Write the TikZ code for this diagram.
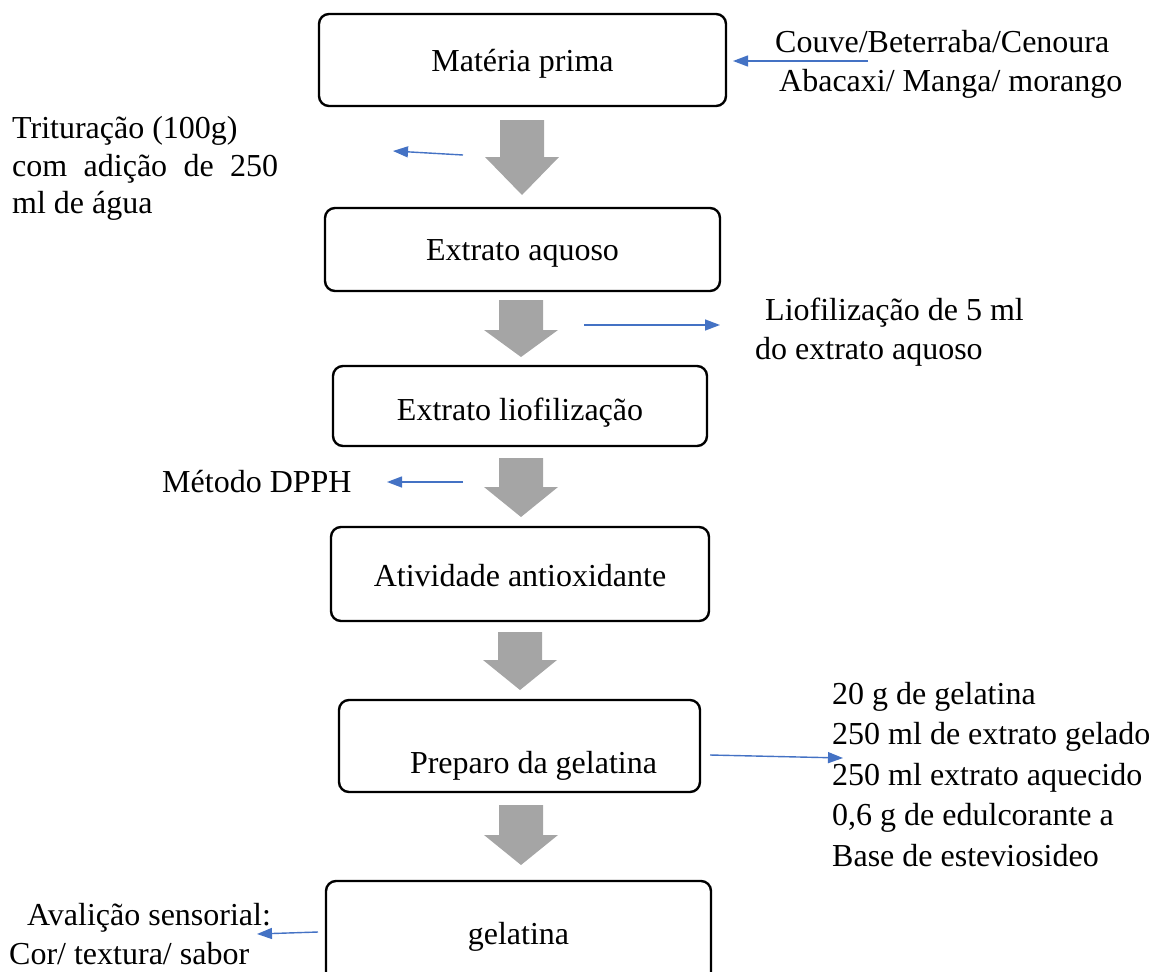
\documentclass[tikz,border=0pt]{standalone}
\usepackage{fontspec}
\setmainfont{Liberation Serif}
\usetikzlibrary{arrows.meta}
\definecolor{bluearr}{HTML}{4472C4}
\definecolor{grayarr}{HTML}{A5A5A5}
\newcommand\blockarr[4]{\fill[grayarr] (#1-22,#2) -- (#1+22,#2) -- (#1+22,#4) -- (#1+37,#4) -- (#1,#3) -- (#1-37,#4) -- (#1-22,#4) -- cycle;}
\newcommand\lowered[2]{\raisebox{-#1}[\height][\depth]{#2}}
\begin{document}
\begin{tikzpicture}[x=1pt,y=-1pt,
  box/.style={draw, line width=2.4pt, rounded corners=10pt, inner sep=0pt, align=center, font=\fontsize{32}{39}\selectfont},
  lbl/.style={inner sep=0pt, anchor=base west, font=\fontsize{32}{39}\selectfont},
  conn/.style={draw=bluearr, line width=1.4pt, -{Triangle[length=15pt,width=11pt]}}]
\useasboundingbox (0,0) rectangle (1155,971);
\clip (0,0) rectangle (1155,971);
% boxes
\node[box, minimum width=407pt, minimum height=92pt] (b1) at (522.5,60) {\lowered{4pt}{Matéria prima}};
\node[box, minimum width=395pt, minimum height=83pt] (b2) at (522.5,249.5) {\lowered{4pt}{Extrato aquoso}};
\node[box, minimum width=374pt, minimum height=80pt] (b3) at (520,406) {\lowered{7pt}{Extrato liofilização}};
\node[box, minimum width=378pt, minimum height=94pt] (b4) at (520,574) {\lowered{2pt}{Atividade antioxidante}};
\node[box, minimum width=361pt, minimum height=92pt] (b5) at (519.5,746) {\lowered{20pt}{\hspace*{28pt}Preparo da gelatina}};
\node[box, minimum width=385pt, minimum height=104pt] (b6) at (518.5,933) {\lowered{4pt}{gelatina}};
% block arrows
\blockarr{522}{120}{195}{157}
\blockarr{521}{300}{357}{330}
\blockarr{521}{458}{517}{487}
\blockarr{520}{632}{690}{660}
\blockarr{521}{805}{865}{835}
% side texts
\node[lbl] (t0) at (775,53) {\begin{tabular}[t]{@{}l@{}}Couve/Beterraba/Cenoura\\\hspace*{4pt}Abacaxi/ Manga/ morango\end{tabular}};
\node[lbl, font=\fontsize{32}{37}\selectfont] (t1) at (12,139) {\begin{tabular}[t]{@{}l@{}}Trituração (100g)\\\makebox[266pt][s]{com\hfill adição\hfill de\hfill 250}\\ml de água\end{tabular}};
\node[lbl] (t2) at (755,320) {\begin{tabular}[t]{@{}l@{}}\hspace*{10pt}Liofilização de 5 ml\\do extrato aquoso\end{tabular}};
\node[lbl] (t3) at (162,492) {Método DPPH};
\node[lbl, font=\fontsize{32}{40.5}\selectfont] (t4) at (832,704) {\begin{tabular}[t]{@{}l@{}}20 g de gelatina\\250 ml de extrato gelado\\250 ml extrato aquecido\\0,6 g de edulcorante a\\Base de esteviosideo\end{tabular}};
\node[lbl] (t5) at (9,925) {\begin{tabular}[t]{@{}l@{}}\hspace*{18pt}Avalição sensorial:\\Cor/ textura/ sabor\end{tabular}};
% connector endpoints
\coordinate (c0s) at (868,61);  \coordinate (c0e) at (733,61);
\coordinate (c1s) at (463,155); \coordinate (c1e) at (393,151);
\coordinate (c2s) at (584,325); \coordinate (c2e) at (720,325);
\coordinate (c3s) at (463,482); \coordinate (c3e) at (387,482);
\coordinate (c4s) at (710,755); \coordinate (c4e) at (843,758);
\coordinate (c5s) at (318,932); \coordinate (c5e) at (257,934);
\draw[conn] (c0s) -- (c0e);
\draw[conn] (c1s) -- (c1e);
\draw[conn] (c2s) -- (c2e);
\draw[conn] (c3s) -- (c3e);
\draw[conn] (c4s) -- (c4e);
\draw[conn] (c5s) -- (c5e);
\end{tikzpicture}
\end{document}
